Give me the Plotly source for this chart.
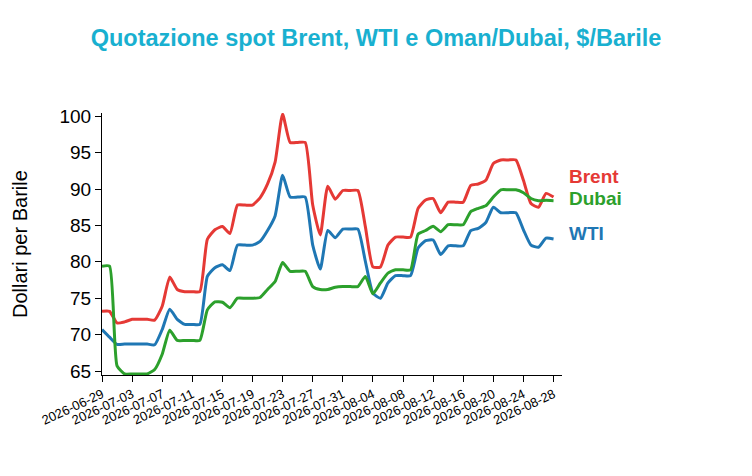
import pandas as pd
import plotly.graph_objects as go

# daily quotes, $/barrel
dates = pd.date_range("2026-06-29", "2026-08-28", freq="D")

brent = [73.2, 73.2, 71.6, 71.75, 72.1, 72.1, 72.1, 72.0, 73.9, 77.9,
         76.2, 75.9, 75.9, 75.9, 83.1, 84.4, 84.85, 83.9, 87.8, 87.8,
         87.8, 88.8, 90.7, 93.7, 100.3, 96.4, 96.4, 96.4, 87.8, 83.7,
         90.4, 88.6, 89.8, 89.8, 89.8, 84.8, 79.3, 79.3, 82.3, 83.4,
         83.4, 83.4, 87.35, 88.5, 88.7, 86.75, 88.2, 88.2, 88.2, 90.5,
         90.7, 91.2, 93.5, 94.0, 94.0, 94.0, 91.2, 88.0, 87.5, 89.4,
         88.9]

wti = [70.7, 69.65, 68.65, 68.7, 68.7, 68.7, 68.7, 68.6, 70.7, 73.5,
       72.1, 71.4, 71.4, 71.4, 78.0, 79.2, 79.6, 78.8, 82.3, 82.3,
       82.3, 82.8, 84.3, 86.3, 91.9, 88.9, 88.9, 88.9, 82.3, 79.0,
       84.3, 83.3, 84.5, 84.5, 84.5, 80.05, 75.7, 75.0, 77.1, 78.1,
       78.1, 78.1, 81.9, 82.9, 83.0, 81.0, 82.2, 82.2, 82.2, 84.3,
       84.6, 85.4, 87.5, 86.75, 86.75, 86.75, 84.4, 82.3, 82.0, 83.25,
       83.15]

dubai = [79.4, 79.4, 65.7, 64.6, 64.6, 64.6, 64.6, 65.2, 67.3, 70.6,
         69.2, 69.2, 69.2, 69.2, 73.4, 74.5, 74.45, 73.7, 75.0, 75.0,
         75.0, 75.1, 76.2, 77.3, 79.9, 78.7, 78.7, 78.7, 76.6, 76.2,
         76.2, 76.5, 76.6, 76.6, 76.6, 78.0, 75.6, 77.1, 78.45, 78.9,
         78.9, 78.9, 83.8, 84.3, 84.9, 84.15, 85.1, 85.1, 85.1, 86.9,
         87.35, 87.7, 88.9, 89.9, 89.9, 89.9, 89.5, 88.7, 88.4, 88.45,
         88.4]

# name, values, colour, pixel nudge of the end label
series = [
    ("Brent", brent, "#e53935", 20.5),
    ("WTI", wti, "#1f77b4", 5),
    ("Dubai", dubai, "#2ca02c", 2.5),
]

FONT = "Liberation Sans, Arial, sans-serif"

fig = go.Figure()
for name, vals, color, shift in series:
    fig.add_trace(
        go.Scatter(x=dates,
                   y=vals,
                   mode="lines",
                   name=name,
                   line=dict(color=color, width=3, shape="spline",
                             smoothing=0.5)))
    # label at the end of each line
    fig.add_annotation(x=1.01,
                       xref="paper",
                       y=vals[-1],
                       yref="y",
                       yshift=shift,
                       text=name,
                       showarrow=False,
                       xanchor="left",
                       yanchor="middle",
                       font=dict(family=FONT, size=19, color=color,
                                 weight="bold"))

# y axis title as an annotation so it sits where the original has it
fig.add_annotation(x=0,
                   xref="paper",
                   y=0.5,
                   yref="paper",
                   xshift=-82,
                   text="Dollari per Barile",
                   textangle=-90,
                   showarrow=False,
                   xanchor="center",
                   yanchor="middle",
                   font=dict(family=FONT, size=20, color="black"))

fig.update_layout(
    width=752,
    height=476,
    paper_bgcolor="white",
    plot_bgcolor="white",
    showlegend=False,
    margin=dict(l=94, r=198, t=105, b=109),
    title=dict(text="Quotazione spot Brent, WTI e Oman/Dubai, $/Barile",
               x=0.5 - 8 / 752,
               xref="container",
               xanchor="center",
               y=1 - 30 / 476,
               yanchor="middle",
               font=dict(family=FONT, size=23.5, color="#19b0d0",
                         weight="bold")),
)

fig.update_xaxes(
    range=["2026-06-29", "2026-08-29 03:00"],
    tick0="2026-06-29",
    dtick=4 * 86400000,
    tickformat="%Y-%m-%d",
    tickangle=-25,
    ticks="outside",
    ticklen=6,
    tickcolor="black",
    showline=True,
    linecolor="black",
    linewidth=1,
    showgrid=False,
    zeroline=False,
    tickfont=dict(family=FONT, size=13, color="black"),
)

fig.update_yaxes(
    range=[64.45, 100.45],
    tickvals=[65, 70, 75, 80, 85, 90, 95, 100],
    ticks="outside",
    ticklen=6,
    tickcolor="black",
    showline=True,
    linecolor="black",
    linewidth=1,
    showgrid=False,
    zeroline=False,
    tickfont=dict(family=FONT, size=19, color="black"),
)

fig.write_html("out.html")
